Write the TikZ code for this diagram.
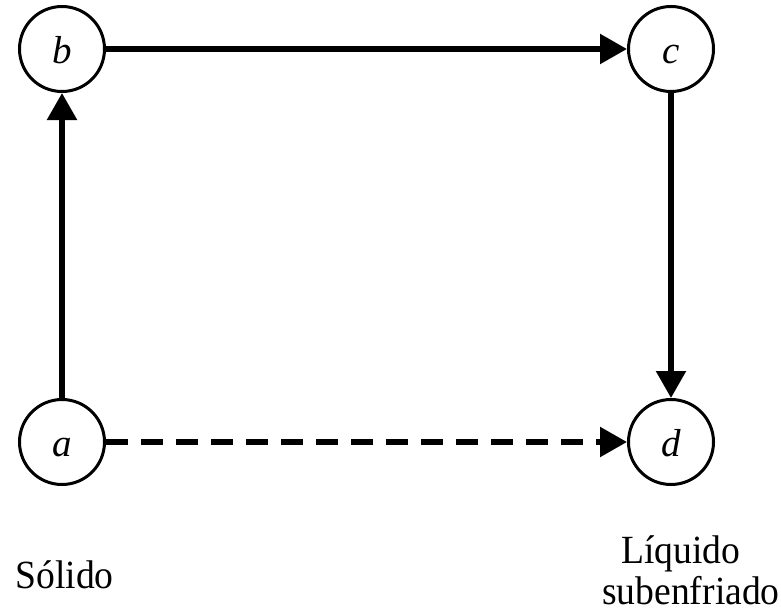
\documentclass[tikz,border=0pt]{standalone}
\usepackage{fontspec}
\setmainfont{Liberation Serif}
\usetikzlibrary{arrows.meta}
\begin{document}
\begin{tikzpicture}[x=1pt,y=-1pt,
  state/.style={circle,draw,line width=3pt,minimum size=85pt,inner sep=0pt,text height=28pt,text depth=0pt,font=\fontsize{39}{40}\selectfont\itshape},
  conn/.style={line width=5.5pt,-{Triangle[length=27pt,width=29pt]}},
  lbl/.style={font=\fontsize{40}{40}\selectfont,inner sep=0pt,xscale=0.94,anchor=base}]
\useasboundingbox (0,0) rectangle (781,613);
\node[state] (b) at (62,49) {b};
\node[state] (c) at (671,49) {c};
\node[state] (a) at (62,442) {a};
\node[state] (d) at (671,442) {d};
\draw[conn] (a) -- (b);
\draw[conn] (b) -- (c);
\draw[conn] (c) -- (d);
\draw[conn,dash pattern=on 22pt off 13pt] (a) -- (d);
\node[lbl] (s) at (64.5,588) {Sólido};
\node[lbl] (l1) at (681,563) {Líquido};
\node[lbl] (l2) at (691,604) {subenfriado};
\end{tikzpicture}
\end{document}
